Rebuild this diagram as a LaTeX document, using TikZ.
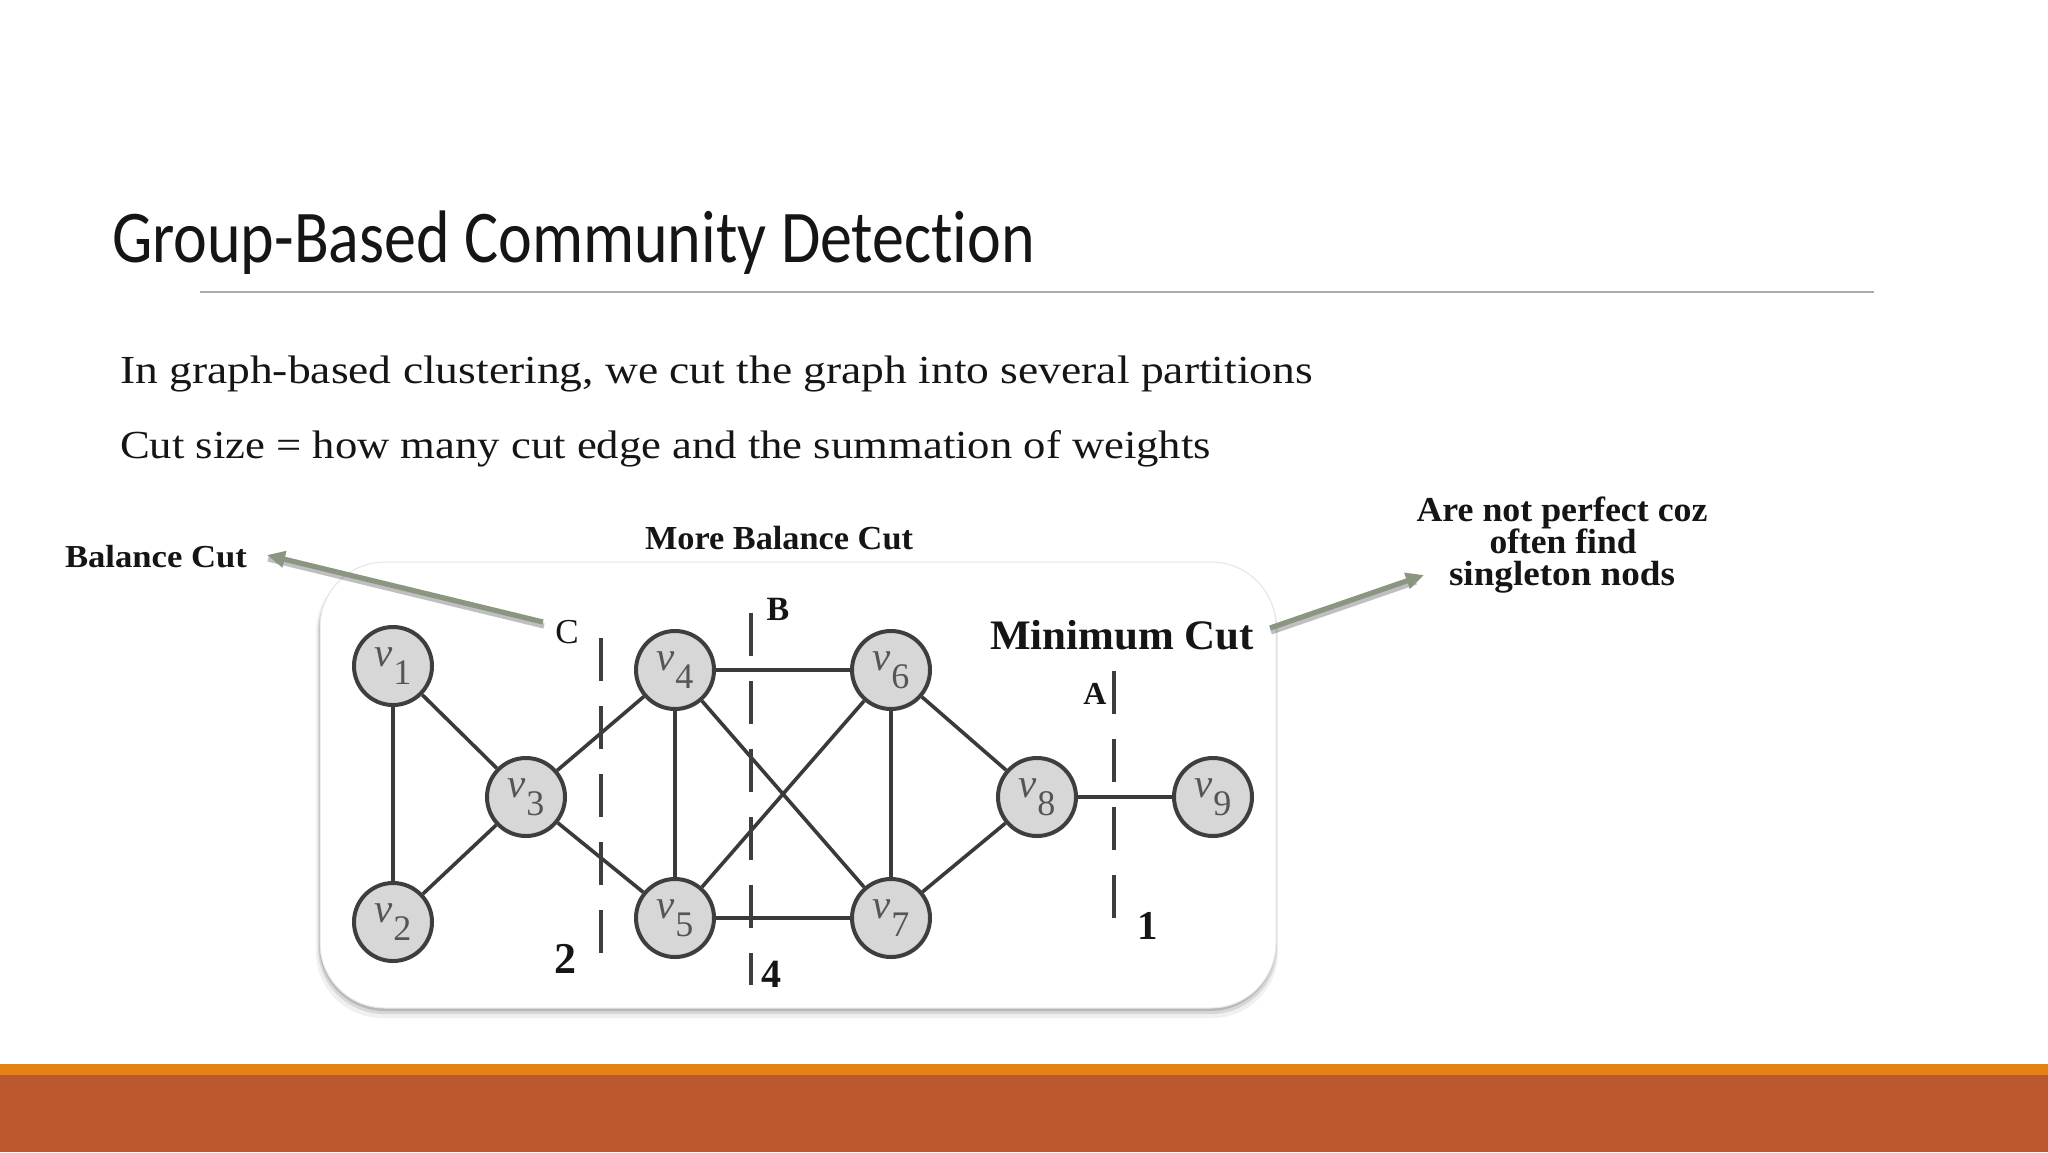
\documentclass[tikz,border=0pt]{standalone}
\usepackage{fontspec}
\setmainfont{Liberation Serif}
\newfontfamily\titlefont[Ligatures=NoCommon]{Carlito}
\usetikzlibrary{arrows.meta}
\definecolor{vfill}{HTML}{D7D7D7}
\definecolor{vborder}{HTML}{3E3E3E}
\definecolor{vtext}{HTML}{555555}
\definecolor{edgec}{HTML}{3A3A3A}
\definecolor{arrowc}{HTML}{8A9680}
\definecolor{barorange}{HTML}{E48214}
\definecolor{barrust}{HTML}{BB582D}
\definecolor{rulec}{HTML}{ABABAB}
\definecolor{textc}{HTML}{151515}
\newsavebox\fitbox
\newlength\fitlen
\newcommand\fitw[2]{\sbox\fitbox{#2}\setlength\fitlen{\wd\fitbox}\pgfmathsetmacro\fitsx{#1/\fitlen}\scalebox{\fitsx}[1]{\usebox\fitbox}}
\newcommand\vlab[1]{{\fontsize{20.5}{21}\selectfont\itshape v}\kern0.3pt\raisebox{-9pt}{\fontsize{18}{19}\selectfont #1}}
\tikzset{
  txt/.style={inner sep=0pt, outer sep=0pt, text=textc},
  vnode/.style={circle, draw=vborder, fill=vfill, line width=2pt, minimum size=39pt, inner sep=0pt, text=vtext},
  edge/.style={draw=edgec, line width=1.8pt},
  cutline/.style={draw=vborder, line width=2pt, dash pattern=on 21.5pt off 12.5pt},
  callout/.style={draw=arrowc, line width=2.6pt, -{Triangle[length=9pt,width=8pt]}},
  calloutshadow/.style={draw=black, opacity=0.25, line width=2.6pt},
}
\begin{document}
\begin{tikzpicture}[x=0.5pt,y=-0.5pt]
\useasboundingbox (0,0) rectangle (2048,1152);
\fill[white] (0,0) rectangle (2048,1152);

% bottom bars
\fill[barorange] (0,1064) rectangle (2048,1075);
\fill[barrust] (0,1075) rectangle (2048,1152);

% title and rule
\node[txt, anchor=base west] (title) at (112,262) {\fitw{461.5}{\titlefont\fontsize{37.2}{40}\selectfont Group-Based Community Detection}};
\draw[rulec, line width=1pt] (200,292) -- (1874,292);

% body text
\node[txt, anchor=base west] (body1) at (120,383) {\fitw{596.5}{\fontsize{19.9}{22}\selectfont In graph-based clustering, we cut the graph into several partitions}};
\node[txt, anchor=base west] (body2) at (120,458) {\fitw{545.5}{\fontsize{19.9}{22}\selectfont Cut size = how many cut edge and the summation of weights}};

% panel with shadow
\fill[black, opacity=0.06, rounded corners=33pt] (316,566) rectangle (1278,1018);
\fill[black, opacity=0.10, rounded corners=33pt] (318,565) rectangle (1277,1014);
\fill[black, opacity=0.14, rounded corners=33pt] (319,564) rectangle (1276,1011);
\filldraw[fill=white, draw=black!10, line width=0.5pt, rounded corners=32.5pt] (320,562) rectangle (1276,1008);

% graph nodes
\node[vnode] (v1) at (393,666) {\vlab{1}};
\node[vnode] (v2) at (393,922) {\vlab{2}};
\node[vnode] (v3) at (526,797) {\vlab{3}};
\node[vnode] (v4) at (675,670) {\vlab{4}};
\node[vnode] (v5) at (675,918) {\vlab{5}};
\node[vnode] (v6) at (891,670) {\vlab{6}};
\node[vnode] (v7) at (891,918) {\vlab{7}};
\node[vnode] (v8) at (1037,797) {\vlab{8}};
\node[vnode] (v9) at (1213,797) {\vlab{9}};

\draw[edge] (v1)--(v2) (v1)--(v3) (v2)--(v3) (v3)--(v4) (v3)--(v5)
  (v4)--(v5) (v4)--(v6) (v4)--(v7) (v5)--(v6) (v5)--(v7) (v6)--(v7)
  (v6)--(v8) (v7)--(v8) (v8)--(v9);

% cut lines
\coordinate (Ctop) at (601,638); \coordinate (Cbot) at (601,960);
\coordinate (Btop) at (751,613); \coordinate (Bbot) at (751,985);
\coordinate (Atop) at (1114,671); \coordinate (Abot) at (1114,922);
\draw[cutline] (Ctop) -- (Cbot);
\draw[cutline] (Btop) -- (Bbot);
\draw[cutline] (Atop) -- (Abot);

% cut letters and numbers
\node[txt, anchor=base] (labC) at (567,643) {\fontsize{17.5}{18}\selectfont C};
\node[txt, anchor=base] (labB) at (778,620) {\fontsize{17}{18}\selectfont\bfseries B};
\node[txt, anchor=base] (labA) at (1095,704) {\fontsize{16}{18}\selectfont\bfseries A};
\node[txt, anchor=base] (num2) at (565,973) {\fontsize{22}{22}\selectfont\bfseries 2};
\node[txt, anchor=base] (num4) at (771,987) {\fontsize{20}{22}\selectfont\bfseries 4};
\node[txt, anchor=base] (num1) at (1148,939) {\fontsize{20.5}{22}\selectfont\bfseries 1};

% labels
\node[txt, anchor=base west] (balance) at (65,567) {\fitw{91}{\fontsize{16}{18}\selectfont\bfseries Balance Cut}};
\node[txt, anchor=base west] (morebal) at (645,549) {\fitw{134}{\fontsize{16.8}{18}\selectfont\bfseries More Balance Cut}};
\node[txt, anchor=base west] (mincut) at (990,649) {\fitw{132}{\fontsize{21}{22}\selectfont\bfseries Minimum Cut}};
\node[txt, anchor=base] (np1) at (1562,521) {\fitw{145.5}{\fontsize{17.5}{18}\selectfont\bfseries Are not perfect coz}};
\node[txt, anchor=base] (np2) at (1563,553) {\fitw{73.5}{\fontsize{17.5}{18}\selectfont\bfseries often find}};
\node[txt, anchor=base] (np3) at (1562,585) {\fitw{113}{\fontsize{17.5}{18}\selectfont\bfseries singleton nods}};

% callout arrows
\coordinate (a1s) at (543,622);
\coordinate (a1e) at (267,555);
\coordinate (a2s) at (1270,628);
\coordinate (a2e) at (1424,575);
\draw[calloutshadow] ([shift={(1,4)}]a1s) -- ([shift={(1,4)}]a1e);
\draw[calloutshadow] ([shift={(1,4)}]a2s) -- ([shift={(-8,7)}]a2e);
\draw[callout] (a1s) -- (a1e);
\draw[callout] (a2s) -- (a2e);
\end{tikzpicture}
\end{document}
